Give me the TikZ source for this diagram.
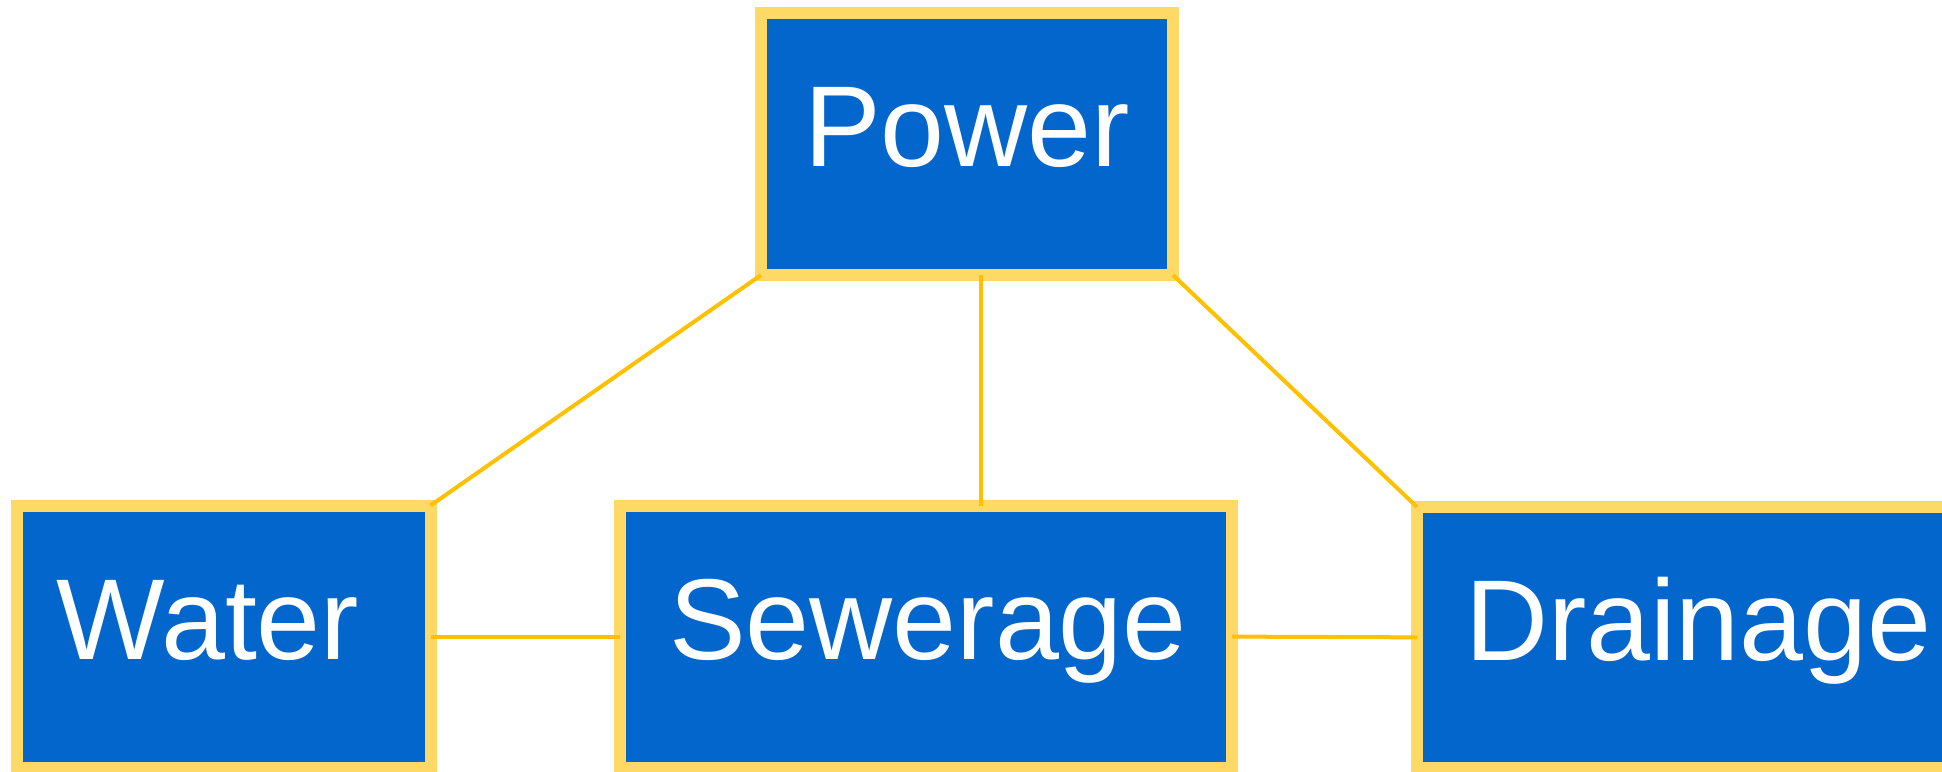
\documentclass[tikz,border=0pt]{standalone}
\usepackage{fontspec}
\setmainfont{Liberation Sans}
\definecolor{boxfill}{HTML}{0366CC}
\definecolor{boxborder}{HTML}{FFD966}
\definecolor{linkcol}{HTML}{FFC000}
\tikzset{
  infrabox/.style={rectangle, draw=boxborder, fill=boxfill, line width=12pt,
    inner sep=0pt, outer sep=0pt},
  boxlabel/.style={anchor=base, inner sep=0pt, text=white,
    font=\fontsize{115}{120}\selectfont},
  link/.style={draw=linkcol, line width=4pt}
}
\begin{document}
\begin{tikzpicture}[x=1pt, y=-1pt]
\useasboundingbox (0,0) rectangle (1942,771);
\clip (0,0) rectangle (1942,771);
% boxes
\node[infrabox, minimum width=412pt, minimum height=261.7pt] (power) at (967,144.2) {};
\node[infrabox, minimum width=413.5pt, minimum height=262.2pt] (water) at (223.75,636.6) {};
\node[infrabox, minimum width=612.5pt, minimum height=262.2pt] (sew) at (925.75,636.6) {};
\node[infrabox, minimum width=563pt, minimum height=260.7pt] (drain) at (1698.5,637.35) {};
% labels
\node[boxlabel] (tpower) at (967,166.7) {Power};
\node[boxlabel] (twater) at (208,659) {Water};
\node[boxlabel] (tsew) at (928,659) {Sewerage};
\node[boxlabel] (tdrain) at (1698.4,660) {Drainage};
% connectors
\coordinate (cx) at (981,0);
\draw[link] (power.south west) -- (water.north east);
\draw[link] (power.south -| cx) -- (sew.north -| cx);
\draw[link] (power.south east) -- (drain.north west);
\draw[link] (water.east) -- (sew.west);
\draw[link] (sew.east) -- (drain.west);
\end{tikzpicture}
\end{document}
